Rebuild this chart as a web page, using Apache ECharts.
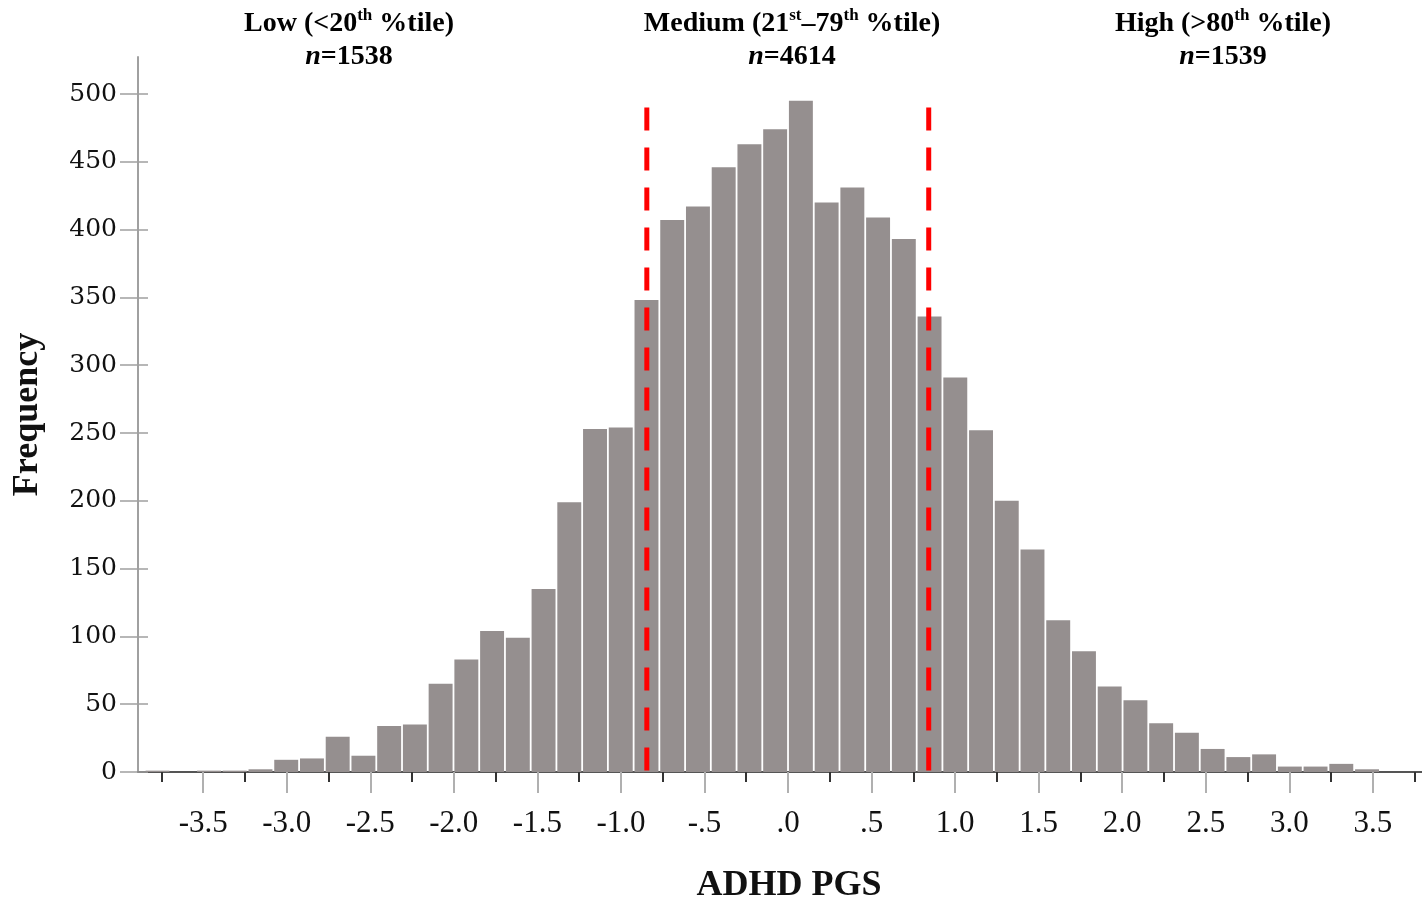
<!DOCTYPE html>
<html>
<head>
<meta charset="utf-8">
<script src="https://cdn.jsdelivr.net/npm/echarts@6/dist/echarts.min.js"></script>
<style>
html,body{margin:0;padding:0;background:#fff;}
#chart{width:1422px;height:900px;}
</style>
</head>
<body>
<div id="chart"></div>
<script>
// Histogram bin edges (ADHD PGS units)
const binEdges = [
  -3.850, -3.696, -3.542, -3.388, -3.234, -3.080, -2.926, -2.772, -2.618, -2.464,
  -2.310, -2.156, -2.002, -1.848, -1.694, -1.540, -1.386, -1.232, -1.078, -0.924,
  -0.770, -0.616, -0.462, -0.308, -0.154, 0.000, 0.154, 0.308, 0.462, 0.616,
  0.770, 0.924, 1.078, 1.232, 1.386, 1.540, 1.694, 1.848, 2.002, 2.156,
  2.310, 2.464, 2.618, 2.772, 2.926, 3.080, 3.234, 3.388, 3.542
];
// Frequency per bin
const counts = [
  1, 0, 1, 1, 2, 9, 10, 26, 12, 34,
  35, 65, 83, 104, 99, 135, 199, 253, 254, 348,
  407, 417, 446, 463, 474, 495, 420, 431, 409, 393,
  336, 291, 252, 200, 164, 112, 89, 63, 53, 36,
  29, 17, 11, 13, 4, 4, 6, 2
];
const yTicks = [0, 50, 100, 150, 200, 250, 300, 350, 400, 450, 500];
const xLabelValues = [-3.5, -3.0, -2.5, -2.0, -1.5, -1.0, -0.5, 0, 0.5, 1.0, 1.5, 2.0, 2.5, 3.0, 3.5];
const xLabelText = ['-3.5', '-3.0', '-2.5', '-2.0', '-1.5', '-1.0', '-.5', '.0', '.5', '1.0', '1.5', '2.0', '2.5', '3.0', '3.5'];
const xMinorTicks = [-3.75, -3.25, -2.75, -2.25, -1.75, -1.25, -0.75, -0.25, 0.25, 0.75, 1.25, 1.75, 2.25, 2.75, 3.25, 3.75];
const cutoffs = [-0.845, 0.842];
const cutoffTop = 490;
const groupLabels = ['Low (<20', 'Medium (21', 'High (>80'];
const groupSup1 = ['th', 'st', 'th'];
const groupMid = ['', '\u201379', ''];
const groupSup2 = ['', 'th', ''];
const groupN = [1538, 4614, 1539];
const groupCenters = [344, 787, 1218];

const serif = '"Liberation Serif", "Times New Roman", serif';
const wideSerif = '"DejaVu Serif", "Liberation Serif", serif';

const barData = counts.map((c, i) => [binEdges[i], binEdges[i + 1], c]);

const titles = groupLabels.map((g, i) => {
  let t = '{b|' + g + '}{s|' + groupSup1[i] + '}';
  if (groupMid[i]) t += '{b|' + groupMid[i] + '}{s|' + groupSup2[i] + '}';
  t += '{b| %tile)}\n{i|n}{b|=' + groupN[i] + '}';
  return {
    text: t,
    left: groupCenters[i],
    top: 2,
    textAlign: 'center',
    textStyle: {
      rich: {
        b: { fontFamily: serif, fontWeight: 'bold', fontSize: 28, color: '#000', lineHeight: 33 },
        i: { fontFamily: serif, fontWeight: 'bold', fontStyle: 'italic', fontSize: 28, color: '#000', lineHeight: 33 },
        s: { fontFamily: serif, fontWeight: 'bold', fontSize: 17, color: '#000', lineHeight: 33, verticalAlign: 'top', padding: [0, 0, 12, 0] }
      }
    }
  };
});

const xMin = -3.89, xMax = 3.794, yMax = 527.3;

const option = {
  animation: false,
  backgroundColor: '#fff',
  title: titles,
  grid: [
    { left: 138, right: 0, top: 57, bottom: 128, outerBoundsMode: 'none', containLabel: false },
    { left: 138, right: 0, top: 57, bottom: 128, outerBoundsMode: 'none', containLabel: false }
  ],
  xAxis: [
    {
      gridIndex: 0, type: 'value', min: xMin, max: xMax,
      axisLine: { onZero: false, lineStyle: { color: '#555', width: 2 } },
      axisTick: { customValues: xMinorTicks, length: 10, lineStyle: { color: '#333', width: 2 } },
      axisLabel: {
        customValues: xLabelValues,
        formatter: v => { const k = xLabelValues.findIndex(x => Math.abs(x - v) < 1e-6); return k >= 0 ? xLabelText[k] : ''; },
        margin: 36, fontFamily: serif, fontSize: 31, color: '#111'
      },
      splitLine: { show: false },
      name: 'ADHD PGS', nameLocation: 'middle', nameGap: 96,
      nameTextStyle: { fontFamily: serif, fontWeight: 'bold', fontSize: 36, color: '#111', padding: [0, 0, 0, 18] }
    },
    {
      gridIndex: 1, type: 'value', min: xMin, max: xMax,
      axisLine: { show: false, onZero: false },
      axisTick: { customValues: xLabelValues, length: 21, lineStyle: { color: '#b0b0b0', width: 2 } },
      axisLabel: { show: false },
      splitLine: { show: false }
    }
  ],
  yAxis: [
    {
      gridIndex: 0, type: 'value', min: 0, max: yMax,
      axisLine: { show: true, onZero: false, lineStyle: { color: '#a0a0a0', width: 2 } },
      axisTick: { show: true, customValues: yTicks, length: 18, lineStyle: { color: '#a0a0a0', width: 1.5 } },
      axisLabel: { customValues: yTicks, margin: 21, fontFamily: wideSerif, fontSize: 25, color: '#111' },
      splitLine: { show: false },
      name: 'Frequency', nameLocation: 'middle', nameRotate: 90, nameGap: 92,
      nameTextStyle: { fontFamily: serif, fontWeight: 'bold', fontSize: 36, color: '#111' }
    },
    {
      gridIndex: 1, type: 'value', min: 0, max: yMax,
      axisLine: { show: false, onZero: false },
      axisTick: { show: true, inside: true, customValues: yTicks, length: 10, lineStyle: { color: '#a0a0a0', width: 1.5 } },
      axisLabel: { show: false },
      splitLine: { show: false }
    }
  ],
  series: [
    {
      type: 'custom',
      xAxisIndex: 0, yAxisIndex: 0,
      data: barData,
      encode: { x: [0, 1], y: 2 },
      renderItem: (params, api) => {
        const p0 = api.coord([api.value(0), api.value(2)]);
        const p1 = api.coord([api.value(1), 0]);
        return {
          type: 'rect',
          shape: { x: p0[0] + 0.9, y: p0[1], width: p1[0] - p0[0] - 1.8, height: p1[1] - p0[1] },
          style: { fill: '#958f8f' }
        };
      },
      z: 2
    },
    ...cutoffs.map(c => ({
      type: 'line',
      xAxisIndex: 0, yAxisIndex: 0,
      data: [[c, cutoffTop], [c, 0]],
      symbol: 'none',
      lineStyle: { color: '#ff0000', width: 5, type: [23, 17], cap: 'butt' },
      z: 5,
      silent: true
    }))
  ]
};

const chart = echarts.init(document.getElementById('chart'), null, { renderer: 'canvas' });
chart.setOption(option);
</script>
</body>
</html>
